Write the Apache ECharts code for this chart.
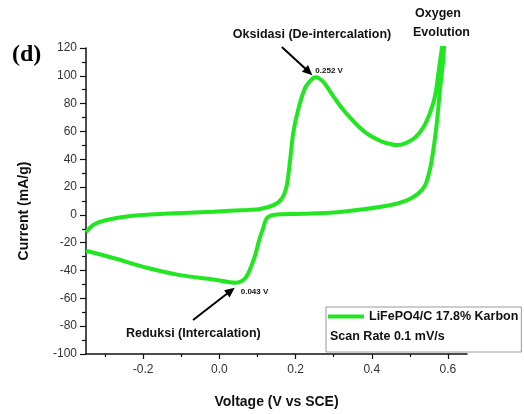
<!DOCTYPE html>
<html>
<head>
<meta charset="utf-8">
<script src="https://cdn.jsdelivr.net/npm/echarts@6/dist/echarts.min.js"></script>
<style>html,body{margin:0;padding:0;background:#fff;}#chart{width:524px;height:414px;}</style>
</head>
<body>
<div id="chart"></div>
<script>
// Anodic (forward) scan: voltage (V vs SCE) and current (mA/g)
const forwardVoltage = [-0.350, -0.331, -0.296, -0.234, -0.147, -0.016, 0.072, 0.107, 0.142, 0.164, 0.177, 0.186, 0.194, 0.207, 0.225, 0.243, 0.252, 0.262, 0.275, 0.290, 0.310, 0.330, 0.350, 0.370, 0.390, 0.420, 0.440, 0.466, 0.508, 0.535, 0.553, 0.566, 0.575, 0.584, 0.594];
const forwardCurrent = [-12.5, -7.2, -3.7, -0.8, 0.8, 2.3, 3.6, 4.3, 7.0, 11.7, 21.2, 40.2, 59.2, 75.8, 91.3, 97.7, 99.0, 98.2, 95.0, 89.0, 81.0, 74.0, 68.0, 62.5, 58.0, 53.5, 51.5, 50.2, 54.5, 62.8, 73.5, 85.3, 102.0, 120.0, 140.0];
// Cathodic (reverse) scan
const reverseVoltage = [0.587, 0.579, 0.571, 0.562, 0.553, 0.540, 0.522, 0.492, 0.448, 0.378, 0.300, 0.220, 0.142, 0.124, 0.115, 0.106, 0.095, 0.085, 0.074, 0.062, 0.043, -0.016, -0.103, -0.190, -0.278, -0.350];
const reverseCurrent = [110.0, 90.0, 66.4, 47.3, 33.0, 21.2, 15.3, 10.5, 7.0, 4.1, 1.8, 0.8, 0.0, -2.5, -9.6, -16.7, -28.0, -36.0, -43.0, -47.0, -48.8, -46.4, -43.3, -38.0, -31.0, -25.8];
const xTickLabels = [-0.2, 0.0, 0.2, 0.4, 0.6];
const xMinorTicks = [-0.3, -0.1, 0.1, 0.3, 0.5];
const seriesName = 'LiFePO4/C 17.8% Karbon';
const scanRateText = 'Scan Rate 0.1 mV/s';
const oxPeak = [0.252, 99.0];
const redPeak = [0.043, -48.8];

const cvData = [];
forwardVoltage.forEach((v, i) => cvData.push([v, forwardCurrent[i]]));
reverseVoltage.forEach((v, i) => cvData.push([v, reverseCurrent[i]]));

const GREEN = '#22e622';
const FONT = '"Liberation Sans", Arial, sans-serif';

const chart = echarts.init(document.getElementById('chart'), null, {renderer: 'canvas'});
const option = {
  backgroundColor: '#fff',
  animation: false,
  grid: {left: 86, right: 57, top: 48, bottom: 57, containLabel: false},
  legend: {
    data: [seriesName],
    left: 326, top: 307,
    orient: 'vertical',
    icon: 'rect', itemWidth: 36, itemHeight: 4,
    padding: [3, 3, 29, 2],
    borderColor: '#999', borderWidth: 1,
    textStyle: {fontFamily: FONT, fontWeight: 'bold', fontSize: 12.5, color: '#111'}
  },
  xAxis: [{
    type: 'value', min: -0.35, max: 0.65,
    name: 'Voltage (V vs SCE)', nameLocation: 'middle', nameGap: 41,
    nameTextStyle: {fontFamily: FONT, fontWeight: 'bold', fontSize: 14, color: '#111'},
    axisLine: {show: true, onZero: false, lineStyle: {color: '#111', width: 1.5}},
    axisTick: {show: true, customValues: xTickLabels, length: 5, inside: false, lineStyle: {color: '#111', width: 1.2}},
    axisLabel: {customValues: xTickLabels, margin: 10, fontFamily: FONT, fontSize: 12, color: '#333', formatter: v => v.toFixed(1)},
    splitLine: {show: false}
  }, {
    type: 'value', min: -0.35, max: 0.65, position: 'bottom',
    axisLine: {show: false, onZero: false},
    axisTick: {show: true, inside: false, customValues: xMinorTicks, length: 3, lineStyle: {color: '#111', width: 1.2}},
    axisLabel: {show: false},
    splitLine: {show: false}
  }],
  yAxis: {
    type: 'value', min: -100, max: 120, interval: 20,
    name: 'Current (mA/g)', nameLocation: 'middle', nameGap: 55,
    nameTextStyle: {fontFamily: FONT, fontWeight: 'bold', fontSize: 14, color: '#111', padding: [0, 20, 0, 0]},
    axisLine: {show: true, onZero: false, lineStyle: {color: '#111', width: 1.5}},
    axisTick: {show: true, length: 6, lineStyle: {color: '#111', width: 1.2}},
    minorTick: {show: true, splitNumber: 2, length: 4, lineStyle: {color: '#111', width: 1.2}},
    axisLabel: {margin: 9, fontFamily: FONT, fontSize: 12, color: '#333'},
    splitLine: {show: false}, minorSplitLine: {show: false}
  },
  series: [{
    name: seriesName, type: 'line', data: cvData,
    showSymbol: false, symbol: 'none', smooth: 0.3, clip: true,
    color: GREEN,
    lineStyle: {color: GREEN, width: 4}
  }]
};
chart.setOption(option);

function px(pt) { return chart.convertToPixel({xAxisIndex: 0, yAxisIndex: 0}, pt); }
function arrow(from, to) {
  const dx = to[0] - from[0], dy = to[1] - from[1];
  const len = Math.sqrt(dx * dx + dy * dy);
  const ux = dx / len, uy = dy / len;
  const hl = 10, hw = 4.5;
  const bx = to[0] - ux * hl, by = to[1] - uy * hl;
  return [{
    type: 'line', shape: {x1: from[0], y1: from[1], x2: bx + ux * 1, y2: by + uy * 1},
    style: {stroke: '#000', lineWidth: 2}
  }, {
    type: 'polygon', shape: {points: [[to[0], to[1]], [bx - uy * hw, by + ux * hw], [bx + uy * hw, by - ux * hw]]},
    style: {fill: '#000'}
  }];
}
const pOx = px(oxPeak), pRed = px(redPeak);
const textStyleBold = (size) => ({fontFamily: FONT, fontWeight: 'bold', fontSize: size, fill: '#111'});
const graphics = [].concat(
  arrow(px([0.164, 120.7]), [pOx[0] - 3, pOx[1] - 2]),
  arrow(px([-0.069, -75.5]), [pRed[0] - 1, pRed[1] + 5]),
  [
    {type: 'text', style: Object.assign({text: '(d)', x: 12, y: 55, verticalAlign: 'middle', textAlign: 'left'}, {fontFamily: '"Liberation Serif", "Times New Roman", serif', fontWeight: 'bold', fontSize: 24, fill: '#000'})},
    {type: 'text', style: Object.assign({text: 'Oksidasi (De-intercalation)', x: 312, y: 35, textAlign: 'center', verticalAlign: 'middle'}, textStyleBold(12.5))},
    {type: 'text', style: Object.assign({text: '0.252 V', x: pOx[0], y: pOx[1] - 6, textAlign: 'left', verticalAlign: 'middle'}, textStyleBold(8))},
    {type: 'text', style: Object.assign({text: 'Oxygen', x: 415, y: 14, textAlign: 'left', verticalAlign: 'middle'}, textStyleBold(12.5))},
    {type: 'text', style: Object.assign({text: 'Evolution', x: 413, y: 33, textAlign: 'left', verticalAlign: 'middle'}, textStyleBold(12.5))},
    {type: 'text', style: Object.assign({text: 'Reduksi (Intercalation)', x: 126, y: 334, textAlign: 'left', verticalAlign: 'middle'}, textStyleBold(12.5))},
    {type: 'text', style: Object.assign({text: '0.043 V', x: pRed[0] + 5, y: pRed[1] + 9, textAlign: 'left', verticalAlign: 'middle'}, textStyleBold(8))},
    {type: 'text', style: Object.assign({text: scanRateText, x: 330, y: 337, textAlign: 'left', verticalAlign: 'middle'}, textStyleBold(12.5))}
  ]
);
chart.setOption({graphic: graphics});
</script>
</body>
</html>
